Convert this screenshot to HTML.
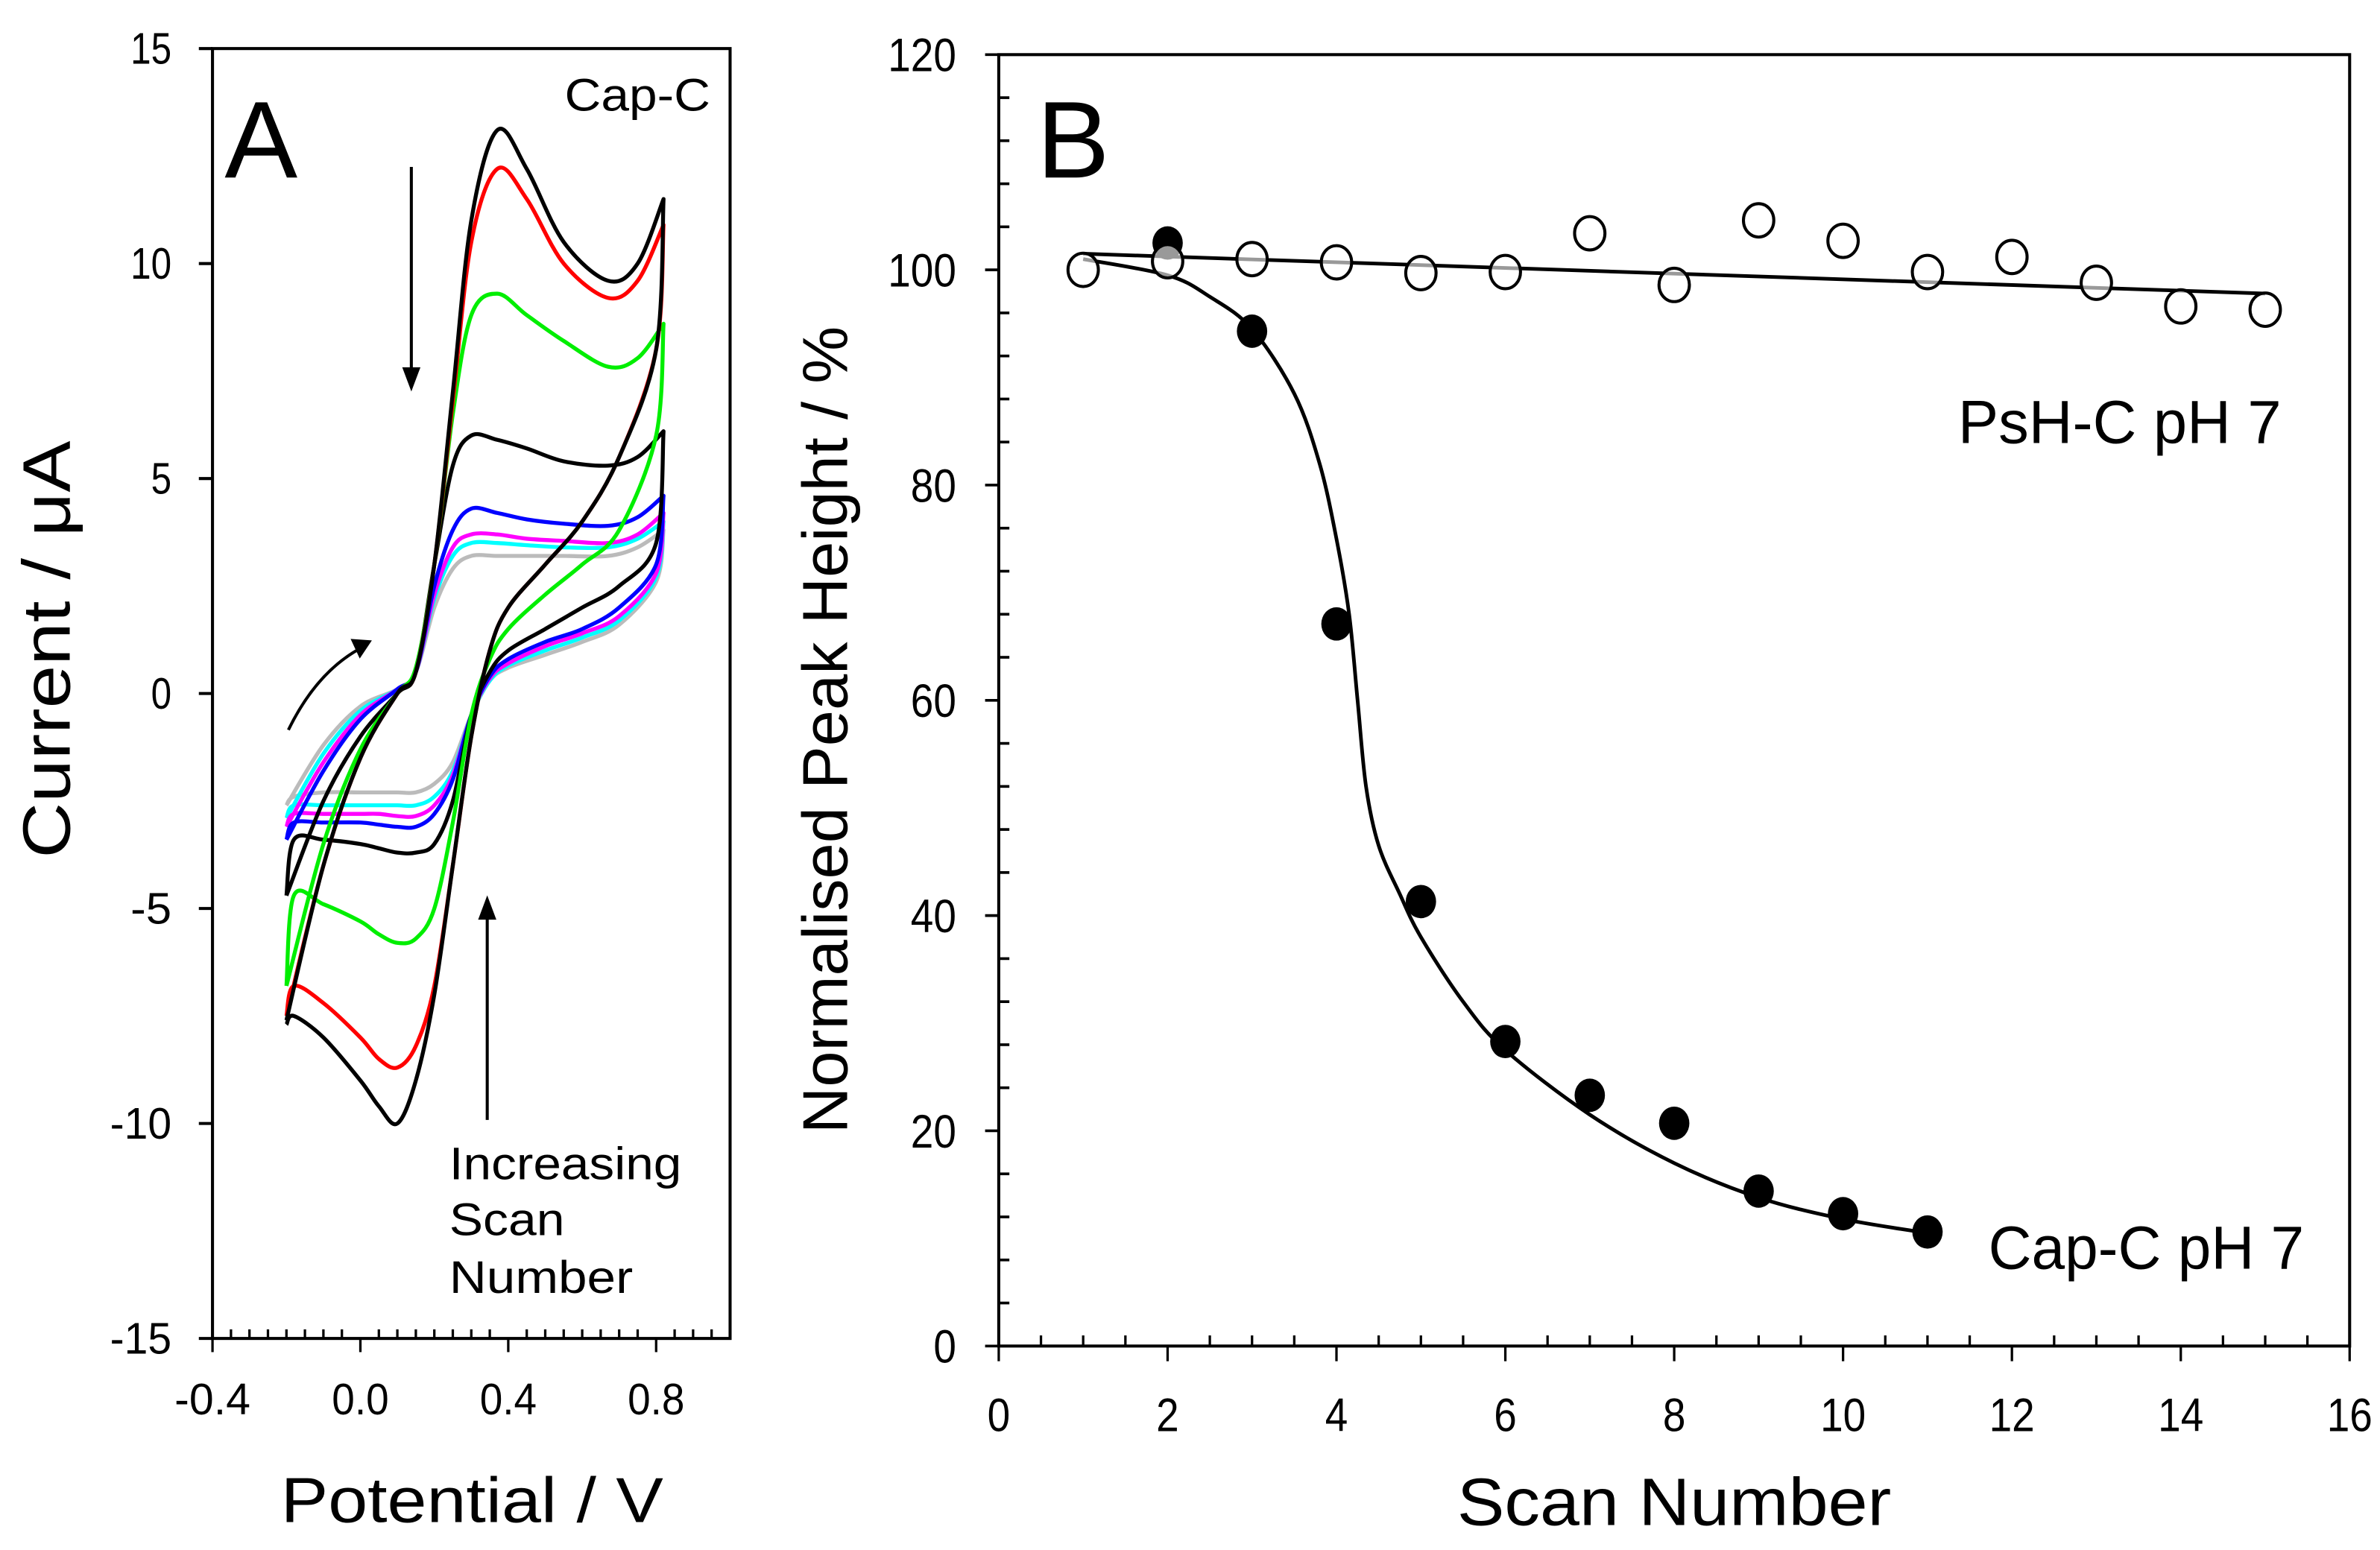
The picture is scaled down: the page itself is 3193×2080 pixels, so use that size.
<!DOCTYPE html>
<html><head><meta charset="utf-8"><style>
html,body{margin:0;padding:0;background:#fff;}
svg{display:block;}
text{font-family:"Liberation Sans",Arial,sans-serif;fill:#000;}
</style></head><body>
<svg id="fig" width="3193" height="2080" viewBox="0 0 1568 1021.4" preserveAspectRatio="none">
<rect width="1568" height="1021.4" fill="#fff"/>
<g id="pa"></g>
<g id="pb"></g>
</svg>
<script>
// ---------- Panel A data ----------
const cvColors = ["#000","#f00","#0e0","#000","#00f","#f0f","#0ff","#bbb"];
const cvE_fwd = [-0.2,-0.1,0,0.1,0.15,0.2,0.25,0.3,0.37,0.45,0.55,0.67,0.75,0.82];
const cv1_fwd = [-7.6,-4,-1.5,0,0.5,3,7,11,13.1,12.2,10.5,9.6,10,11.5];
const cv2_fwd = [-7.5,-4,-1.5,0,0.5,3,6.8,10.5,12.2,11.5,10,9.2,9.6,10.9];
const cv3_fwd = [-6.8,-3.5,-1.3,0,0.6,3,6.5,8.8,9.3,8.8,8.2,7.6,7.8,8.6];
const cv4_fwd = [-4.7,-2.5,-1,0,0.5,3,5.3,6,5.9,5.7,5.4,5.3,5.5,6.1];
const cv5_fwd = [-3.4,-1.8,-0.6,0.1,0.5,2.5,3.8,4.3,4.2,4.05,3.95,3.9,4.1,4.6];
const cv6_fwd = [-3.1,-1.6,-0.5,0.1,0.5,2.3,3.4,3.7,3.7,3.6,3.55,3.5,3.7,4.2];
const cv7_fwd = [-2.9,-1.4,-0.4,0.1,0.5,2.2,3.2,3.5,3.5,3.45,3.4,3.4,3.6,4.0];
const cv8_fwd = [-2.6,-1.2,-0.3,0.1,0.5,2.0,2.9,3.2,3.2,3.2,3.2,3.2,3.4,3.8];
const cvE_rev = [0.82,0.8,0.7,0.6,0.5,0.4,0.35,0.3,0.25,0.2,0.15,0.1,0.05,0,-0.1,-0.18,-0.2];
const cv1_rev = [11.5,8,5.5,4,3,2,1,-1,-4,-7,-9,-10,-9.6,-9,-8,-7.5,-7.7];
const cv2_rev = [10.9,8,5.5,4,3,2,1,-1,-4,-6.8,-8.2,-8.7,-8.5,-8,-7.2,-6.8,-7.5];
const cv3_rev = [8.6,6,3.8,3,2.3,1.5,0.8,-0.5,-3,-5,-5.7,-5.8,-5.6,-5.3,-4.9,-4.7,-6.8];
const cv4_rev = [6.1,3.5,2.5,2,1.5,1,0.5,-0.5,-2.5,-3.5,-3.7,-3.7,-3.6,-3.5,-3.4,-3.4,-4.7];
const cv5_rev = [4.6,3,2,1.5,1.2,0.8,0.4,-0.5,-2,-2.8,-3.1,-3.1,-3.05,-3,-3,-3,-3.4];
const cv6_rev = [4.2,2.8,1.8,1.4,1.1,0.7,0.35,-0.5,-1.9,-2.6,-2.85,-2.85,-2.8,-2.8,-2.8,-2.8,-3.1];
const cv7_rev = [4.0,2.7,1.7,1.3,1.0,0.65,0.3,-0.5,-1.8,-2.4,-2.6,-2.6,-2.6,-2.6,-2.6,-2.6,-2.9];
const cv8_rev = [3.8,2.6,1.6,1.2,0.9,0.6,0.3,-0.5,-1.6,-2.1,-2.3,-2.3,-2.3,-2.3,-2.3,-2.4,-2.6];
const cvFwd = [cv1_fwd,cv2_fwd,cv3_fwd,cv4_fwd,cv5_fwd,cv6_fwd,cv7_fwd,cv8_fwd];
const cvRev = [cv1_rev,cv2_rev,cv3_rev,cv4_rev,cv5_rev,cv6_rev,cv7_rev,cv8_rev];
const aXTicks = [-0.4,0.0,0.4,0.8];
const aXTickLabels = ["-0.4","0.0","0.4","0.8"];
const aYTicks = [15,10,5,0,-5,-10,-15];
const aYTickLabels = ["15","10","5","0","-5","-10","-15"];

// ---------- Panel B data ----------
const psScans = [1,2,3,4,5,6,7,8,9,10,11,12,13,14,15];
const psValues = [100,100.8,101,100.7,99.7,99.8,103.4,98.6,104.6,102.7,99.8,101.2,98.8,96.6,96.3];
const psFitX = [1,15];
const psFitY = [101.5,97.8];
const capScans = [2,3,4,5,6,7,8,9,10,11];
const capValues = [102.5,94.3,67.1,41.3,28.3,23.3,20.7,14.4,12.3,10.6];
const capFitX = [1,2,2.5,3,3.5,3.8,4.0,4.15,4.25,4.35,4.5,4.75,5,5.5,6,7,8,9,10,11];
const capFitY = [101,99.5,97.5,94.5,88.5,82,75,68,60,52,46.5,42,38,32,27.5,21.5,17,13.8,11.8,10.5];
const bXTicks = [0,2,4,6,8,10,12,14,16];
const bXTickLabels = ["0","2","4","6","8","10","12","14","16"];
const bYTicks = [0,20,40,60,80,100,120];
const bYTickLabels = ["0","20","40","60","80","100","120"];

const NS="http://www.w3.org/2000/svg";
function mk(parent,tag,attrs,txt){const e=document.createElementNS(NS,tag);for(const k in attrs)e.setAttribute(k,attrs[k]);if(txt!==undefined)e.textContent=txt;parent.appendChild(e);return e;}
function smooth(pts){let d="M"+pts[0][0]+","+pts[0][1];for(let i=0;i<pts.length-1;i++){const p0=pts[Math.max(0,i-1)],p1=pts[i],p2=pts[i+1],p3=pts[Math.min(pts.length-1,i+2)];const c1x=p1[0]+(p2[0]-p0[0])/6,c1y=p1[1]+(p2[1]-p0[1])/6,c2x=p2[0]-(p3[0]-p1[0])/6,c2y=p2[1]-(p3[1]-p1[1])/6;d+=" C"+c1x+","+c1y+" "+c2x+","+c2y+" "+p2[0]+","+p2[1];}return d;}

// ---------- Panel A ----------
const pa=document.getElementById('pa');
const aL=140,aR=481,aT=32,aB=882;
const ax=E=>aL+(E+0.4)/1.4*(aR-aL);
const ay=I=>aB-(I+15)/30*(aB-aT);
let e;
e=mk(pa,'rect',{x:aL,y:aT,width:aR-aL,height:aB-aT,fill:'none',stroke:'#000','stroke-width':2});


for(let i=0;i<aYTicks.length;i++){
  const y=ay(aYTicks[i]);
  e=mk(pa,'line',{x1:aL-9,x2:aL,y1:y,y2:y,stroke:'#000','stroke-width':2});
  
  
  const lbl=aYTickLabels[i];
  e=mk(pa,'text',{x:113,y:y+10,'font-size':29,'text-anchor':'end',textLength:lbl.length*13.5,lengthAdjust:'spacingAndGlyphs'},lbl);
  
  
}
for(let k=-8;k<=20;k++){
  const v=k*0.05;const x=ax(v);
  const major=(k%8===0);
  e=mk(pa,'line',{x1:x,x2:x,y1:major?aB:aB-6,y2:major?aB+9:aB,stroke:'#000','stroke-width':1.6});
  
  
}
for(let i=0;i<aXTicks.length;i++){
  e=mk(pa,'text',{x:ax(aXTicks[i]),y:932,'font-size':29,'text-anchor':'middle',textLength:aXTickLabels[i].length*12.5,lengthAdjust:'spacingAndGlyphs'},aXTickLabels[i]);
  
  
}
e=mk(pa,'text',{x:0,y:0,'font-size':44,'text-anchor':'middle',transform:'translate(46,428) rotate(-90)',textLength:275,lengthAdjust:'spacingAndGlyphs'},'Current / μA');


e=mk(pa,'text',{x:311,y:1003,'font-size':42,'text-anchor':'middle',textLength:252,lengthAdjust:'spacingAndGlyphs'},'Potential / V');


for(let c=cvFwd.length-1;c>=0;c--){
  const pts=[];
  for(let i=0;i<cvE_fwd.length;i++)pts.push([ax(cvE_fwd[i]),ay(cvFwd[c][i])]);
  const pts2=[];
  for(let i=0;i<cvE_rev.length;i++)pts2.push([ax(cvE_rev[i]),ay(cvRev[c][i])]);
  e=mk(pa,'path',{d:smooth(pts)+" "+smooth(pts2).replace(/^M/,'L'),fill:'none',stroke:cvColors[c],'stroke-width':2.6,'stroke-linejoin':'round'});
  
  
}
e=mk(pa,'text',{x:148,y:117,'font-size':72},'A');


e=mk(pa,'text',{x:372,y:73,'font-size':30,textLength:96,lengthAdjust:'spacingAndGlyphs'},'Cap-C');


const lines=['Increasing','Scan','Number'];const lys=[777,814,852];const lws=[153,76,121];
for(let i=0;i<3;i++){e=mk(pa,'text',{x:296,y:lys[i],'font-size':30,textLength:lws[i],lengthAdjust:'spacingAndGlyphs'},lines[i]);
  
  }
e=mk(pa,'path',{d:'M271,110 L271,245',stroke:'#000','stroke-width':2,fill:'none'});


e=mk(pa,'path',{d:'M265,242 L271,258 L277,242 Z',fill:'#000'});


e=mk(pa,'path',{d:'M321,738 L321,603',stroke:'#000','stroke-width':2,fill:'none'});


e=mk(pa,'path',{d:'M315,606 L321,590 L327,606 Z',fill:'#000'});


e=mk(pa,'path',{d:'M190,481 Q208,444 236,428',stroke:'#000','stroke-width':2,fill:'none'});


e=mk(pa,'path',{d:'M231,421 L245,422 L237,434 Z',fill:'#000'});



// ---------- Panel B ----------
const pb=document.getElementById('pb');
const bL=658,bR=1548,bT=36,bB=887;
const bx=v=>bL+v/16*(bR-bL);
const by=v=>bB-v/120*(bB-bT);
e=mk(pb,'rect',{x:bL,y:bT,width:bR-bL,height:bB-bT,fill:'none',stroke:'#000','stroke-width':2});


for(let v=0;v<=120;v+=4){
  const y=by(v);const major=(v%20===0);
  e=mk(pb,'line',{x1:major?bL-9:bL,x2:major?bL:bL+7,y1:y,y2:y,stroke:'#000','stroke-width':1.8});
  
  
}
for(let i=0;i<bYTicks.length;i++){
  e=mk(pb,'text',{x:630,y:by(bYTicks[i])+11,'font-size':31,'text-anchor':'end',textLength:bYTickLabels[i].length*15,lengthAdjust:'spacingAndGlyphs'},bYTickLabels[i]);
  
  
}
for(let k=0;k<=32;k++){
  const v=k*0.5;const x=bx(v);const major=(k%4===0);
  e=mk(pb,'line',{x1:x,x2:x,y1:major?bB:bB-7,y2:major?bB+10:bB,stroke:'#000','stroke-width':1.6});
  
  
}
for(let i=0;i<bXTicks.length;i++){
  e=mk(pb,'text',{x:bx(bXTicks[i]),y:943,'font-size':31,'text-anchor':'middle',textLength:bXTickLabels[i].length*15,lengthAdjust:'spacingAndGlyphs'},bXTickLabels[i]);
  
  
}
e=mk(pb,'text',{x:0,y:0,'font-size':42,'text-anchor':'middle',transform:'translate(558,481) rotate(-90)',textLength:532,lengthAdjust:'spacingAndGlyphs'},'Normalised Peak Height / %');


e=mk(pb,'text',{x:1103,y:1005,'font-size':44,'text-anchor':'middle',textLength:286,lengthAdjust:'spacingAndGlyphs'},'Scan Number');


e=mk(pb,'path',{d:'M'+bx(psFitX[0])+','+by(psFitY[0])+' L'+bx(psFitX[1])+','+by(psFitY[1]),stroke:'#000','stroke-width':2.4,fill:'none'});


const cf=[];for(let i=0;i<capFitX.length;i++)cf.push([bx(capFitX[i]),by(capFitY[i])]);
e=mk(pb,'path',{d:smooth(cf),stroke:'#000','stroke-width':2.4,fill:'none'});


for(let i=0;i<capScans.length;i++){
  e=mk(pb,'ellipse',{cx:bx(capScans[i]),cy:by(capValues[i]),rx:10,ry:11,fill:'#000'});
  
  
}
for(let i=0;i<psScans.length;i++){
  e=mk(pb,'ellipse',{cx:bx(psScans[i]),cy:by(psValues[i]),rx:10,ry:11,fill:'#fff','fill-opacity':0.6,stroke:'#000','stroke-width':2});
  
  
}
e=mk(pb,'text',{x:683,y:117,'font-size':72},'B');


e=mk(pb,'text',{x:1290,y:292,'font-size':40,textLength:213,lengthAdjust:'spacingAndGlyphs'},'PsH-C pH 7');


e=mk(pb,'text',{x:1310,y:836,'font-size':40,textLength:208,lengthAdjust:'spacingAndGlyphs'},'Cap-C pH 7');


</script>
</body></html>
